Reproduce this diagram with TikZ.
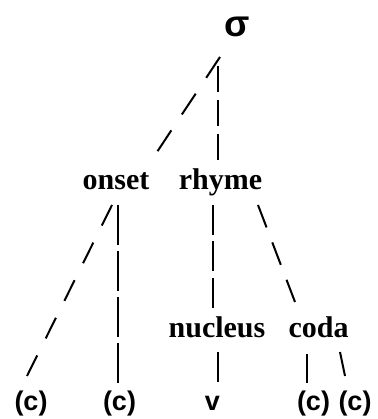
\documentclass[tikz,border=0pt]{standalone}
\usepackage{fontspec}
\setmainfont{Liberation Serif}
\newfontfamily\sansbold{Liberation Sans}[BoldFont={Liberation Sans Bold}]
\begin{document}
\begin{tikzpicture}[x=1pt,y=1pt,
  lab/.style={inner sep=0pt,anchor=base,font=\fontsize{30}{30}\selectfont\bfseries},
  leaf/.style={inner sep=0pt,anchor=base,font=\fontsize{27}{27}\selectfont\sansbold\bfseries},
  br/.style={line width=2pt},
]
\useasboundingbox (0,0) rectangle (377,419);
\node[inner sep=0pt,anchor=base,font=\fontsize{37}{37}\selectfont\sansbold\bfseries] (sigma) at (237,382) {σ};
\node[lab] (onset) at (116,229) {onset};
\node[lab] (rhyme) at (220.5,229) {rhyme};
\node[lab] (nucleus) at (217,81) {nucleus};
\node[lab] (coda) at (318.5,81) {coda};
\node[leaf] (c1) at (31,9) {(c)};
\node[leaf] (c2) at (119.5,9) {(c)};
\node[leaf] (v) at (212.5,9) {v};
\node[leaf] (c4) at (313.5,9) {(c)};
\node[leaf] (c5) at (355,9) {(c)};
% sigma branches
\draw[br,dash pattern=on 25pt off 19pt] ([shift={(-17,-20)}]sigma.base) -- ([shift={(41,38)}]onset.base);
\draw[br,dash pattern=on 26pt off 8pt] ([shift={(-19,-29)}]sigma.base) -- ([shift={(-2.5,30)}]rhyme.base);
% onset branches
\draw[br,dash pattern=on 23pt off 19pt] ([shift={(-4,-15)}]onset.base) -- ([shift={(-4,34)}]c1.base);
\draw[br,dash pattern=on 40pt off 6pt] ([shift={(2,-15)}]onset.base) -- ([shift={(-1.5,27)}]c2.base);
% rhyme branches
\draw[br,dash pattern=on 30pt off 6.5pt] ([shift={(-7.5,-15)}]rhyme.base) -- ([shift={(-4,30)}]nucleus.base);
\draw[br,dash pattern=on 24pt off 16pt] ([shift={(37.5,-15)}]rhyme.base) -- ([shift={(-23.5,36)}]coda.base);
% lower branches
\draw[br] ([shift={(1,-14)}]nucleus.base) -- ([shift={(5.5,28)}]v.base);
\draw[br] ([shift={(-11.5,-16)}]coda.base) -- ([shift={(-6.5,27)}]c4.base);
\draw[br] ([shift={(21.5,-14)}]coda.base) -- ([shift={(-10,34)}]c5.base);
\end{tikzpicture}
\end{document}
